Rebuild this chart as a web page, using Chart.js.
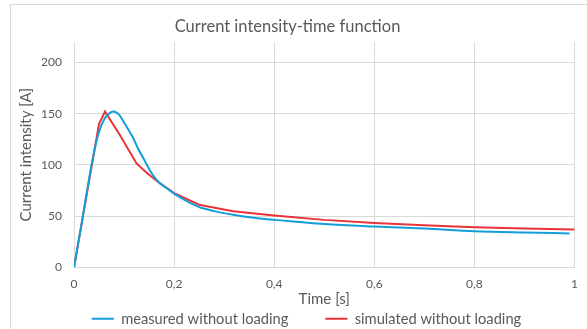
<!DOCTYPE html>
<html>
<head>
<meta charset="utf-8">
<script src="https://cdn.jsdelivr.net/npm/chart.js@4"></script>
<style>
  body { margin: 0; background: #fff; }
  #frame { position: absolute; left: 10px; top: 4px; width: 590px; height: 340px; border: 1px solid #d9d9d9; }
  #wrap { position: absolute; left: 0; top: 0; width: 587px; height: 329px; }
</style>
</head>
<body>
<div id="frame"></div>
<div id="wrap"><canvas id="chart" width="587" height="329"></canvas></div>
<script>
// Measured current (blue)
const measuredTime = [0, 0.017, 0.035, 0.0485, 0.062, 0.07, 0.078, 0.085, 0.09, 0.098, 0.108, 0.118, 0.128, 0.138, 0.148, 0.158, 0.17, 0.185, 0.2, 0.212, 0.23, 0.25, 0.28, 0.318, 0.36, 0.4, 0.45, 0.5, 0.6, 0.7, 0.8, 0.9, 0.99];
const measuredCurrent = [0, 48, 100, 130, 146, 150, 152, 151, 149, 143, 135, 126.5, 116, 107, 98, 90, 83, 77.5, 72, 68.5, 63.5, 59, 55, 51.5, 48.5, 46.5, 44.5, 42.5, 40, 38, 35.5, 34.2, 33.3];

// Simulated current (red)
const simulatedTime = [0, 0.05, 0.062, 0.092, 0.125, 0.145, 0.172, 0.2, 0.25, 0.318, 0.4, 0.5, 0.6, 0.7, 0.8, 0.9, 1.0];
const simulatedCurrent = [0, 140, 152, 129, 101.5, 92.5, 82, 72.5, 61.3, 54.8, 50.7, 46.5, 43.5, 41.2, 39.4, 38.2, 37.1];

const xTicks = [0, 0.2, 0.4, 0.6, 0.8, 1];
const yTicks = [0, 50, 100, 150, 200];

const textColor = '#595959';
const gridColor = '#d9d9d9';
const fontFamily = 'Lato, "Open Sans", sans-serif';
const legendPadding = 37;

function toPoints(xs, ys) {
    return xs.map((x, i) => ({ x: x, y: ys[i] }));
}

// Move the legend down under the axis title (its padding is only wanted sideways)
const legendPlace = {
    id: 'legendPlace',
    afterLayout(chart) {
        const legend = chart.legend;
        legend.top = 319 - 7.5 - legendPadding;
        legend.bottom = chart.height;
        legend.height = legend.bottom - legend.top;
        legend.left += 19;
        legend.right += 19;
    }
};

const ctx = document.getElementById('chart').getContext('2d');
const chart = new Chart(ctx, {
    type: 'line',
    data: {
        datasets: [{
            label: 'measured without loading',
            data: toPoints(measuredTime, measuredCurrent),
            borderColor: '#129fd9',
            backgroundColor: '#129fd9',
            borderWidth: 2,
            pointRadius: 0,
            cubicInterpolationMode: 'monotone',
            fill: false
        }, {
            label: 'simulated without loading',
            data: toPoints(simulatedTime, simulatedCurrent),
            borderColor: '#ea3338',
            backgroundColor: '#ea3338',
            borderWidth: 2,
            pointRadius: 0,
            tension: 0,
            fill: false
        }]
    },
    options: {
        responsive: false,
        animation: false,
        layout: { padding: { left: 0, right: 12, top: 0, bottom: 0 } },
        plugins: {
            title: {
                display: true,
                text: 'Current intensity-time function',
                color: textColor,
                font: { family: fontFamily, size: 16.5, weight: 'normal' },
                padding: { top: 17, bottom: 5 }
            },
            legend: {
                position: 'bottom',
                maxHeight: 21,
                labels: {
                    color: textColor,
                    font: { family: fontFamily, size: 14.7 },
                    usePointStyle: true,
                    pointStyle: 'line',
                    pointStyleWidth: 22,
                    padding: legendPadding
                }
            },
            tooltip: { enabled: false }
        },
        scales: {
            x: {
                type: 'linear',
                min: 0,
                max: 1,
                afterBuildTicks: scale => { scale.ticks = xTicks.map(v => ({ value: v })); },
                ticks: {
                    color: textColor,
                    font: { family: fontFamily, size: 12 },
                    padding: 9,
                    maxRotation: 0,
                    callback: v => String(v).replace('.', ',')
                },
                grid: { color: gridColor, drawTicks: false },
                border: { color: gridColor },
                title: {
                    display: true,
                    text: 'Time [s]',
                    color: textColor,
                    font: { family: fontFamily, size: 15 },
                    padding: { top: -10, bottom: 0 }
                }
            },
            y: {
                min: 0,
                max: 220,
                afterBuildTicks: scale => { scale.ticks = yTicks.map(v => ({ value: v })); },
                afterFit: scale => { scale.width = 74; },
                ticks: {
                    color: textColor,
                    font: { family: fontFamily, size: 12 },
                    padding: 12
                },
                grid: { color: gridColor, drawTicks: false },
                border: { display: false },
                title: {
                    display: true,
                    text: 'Current intensity [A]',
                    color: textColor,
                    font: { family: fontFamily, size: 15 },
                    padding: { top: 17, bottom: 0 }
                }
            }
        }
    },
    plugins: [legendPlace]
});
</script>
</body>
</html>
